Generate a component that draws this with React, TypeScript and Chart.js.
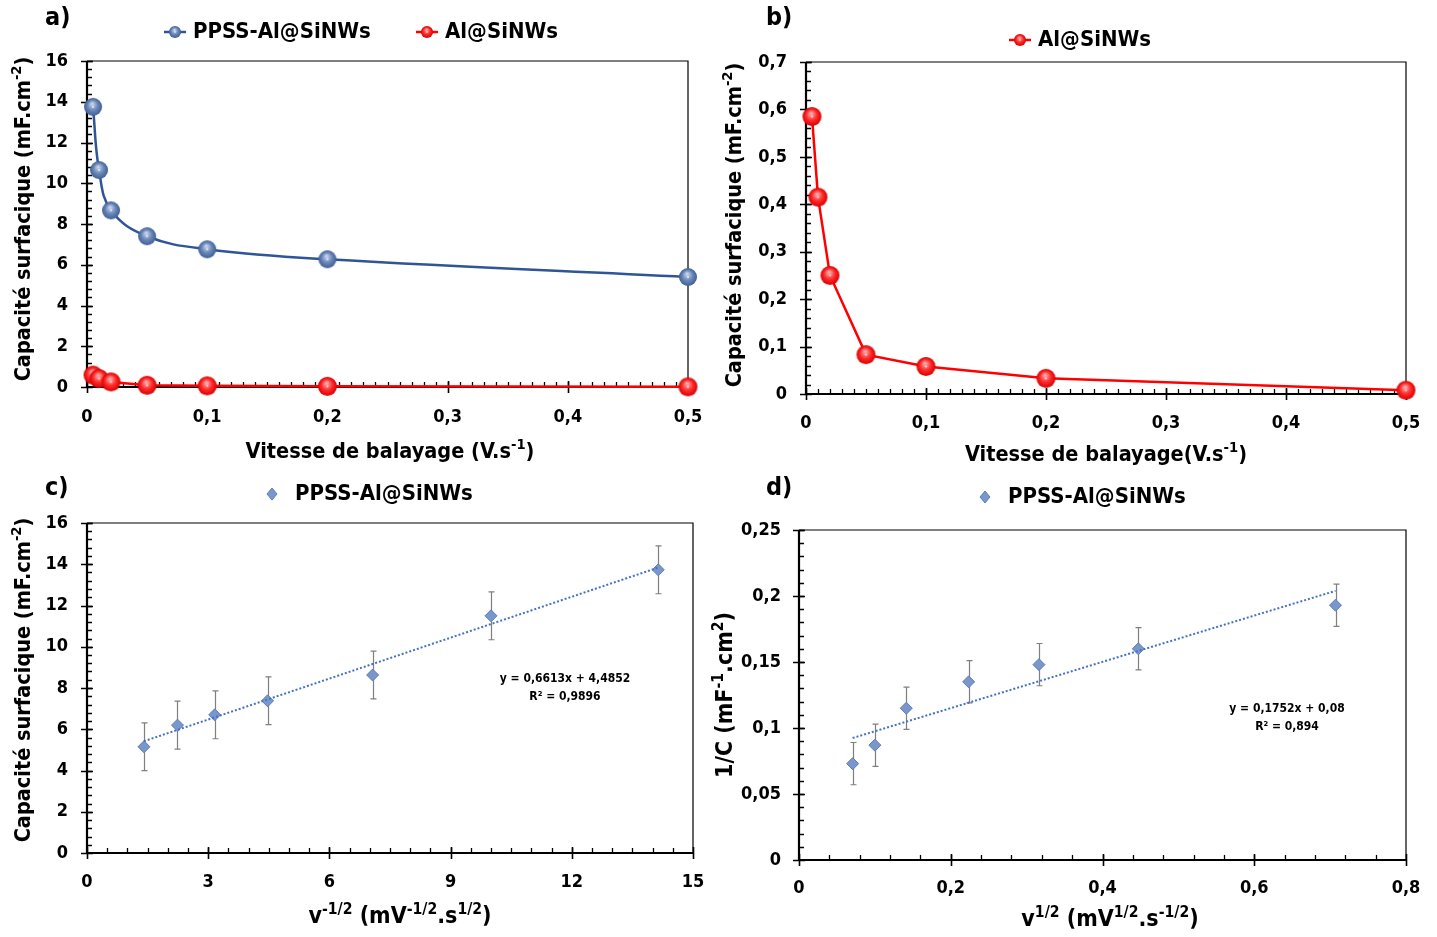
import React, { useEffect, useRef } from 'react';
import { Chart, registerables } from 'chart.js';
Chart.register(...registerables);

const FONT = "'Liberation Sans Narrow', 'Arial Narrow', 'DejaVu Sans Condensed', 'Roboto Condensed', Roboto, sans-serif";

// ---- Data: panels a) and b) ----
const scanRates = [0.005, 0.01, 0.02, 0.05, 0.1, 0.2, 0.5];
const capPPSS = [13.75, 10.65, 8.67, 7.4, 6.76, 6.27, 5.4];
const capAl = [0.585, 0.415, 0.25, 0.083, 0.058, 0.033, 0.008];

// ---- Data: panel c) ----
const invSqrtRate = [1.41, 2.24, 3.16, 4.47, 7.07, 10.0, 14.14];
const capC = [5.15, 6.2, 6.7, 7.38, 8.63, 11.5, 13.73];
const errC = [1.16, 1.16, 1.16, 1.16, 1.16, 1.16, 1.16];
const trendCX = [1.41, 14.14];
const trendCY = [5.42, 13.84];
const eqC = ['y = 0,6613x + 4,4852', 'R² = 0,9896'];

// ---- Data: panel d) ----
const sqrtRate = [0.0707, 0.1, 0.1414, 0.2236, 0.3162, 0.4472, 0.7071];
const invCap = [0.073, 0.087, 0.115, 0.135, 0.148, 0.16, 0.193];
const errD = [0.016, 0.016, 0.016, 0.016, 0.016, 0.016, 0.016];
const trendDX = [0.0707, 0.7071];
const trendDY = [0.0924, 0.2039];
const eqD = ['y = 0,1752x + 0,08', 'R² = 0,894'];

const BLUE_LINE = '#2f5597';
const RED = '#ff0000';
const TREND = '#4472c4';

const zip = (xs: number[], ys: number[]) => xs.map((x, i) => ({ x, y: ys[i] }));

function sphere(r: number, light: string, base: string, dark: string) {
  const c = document.createElement('canvas');
  const s = Math.ceil(2 * r + 2);
  c.width = s; c.height = s;
  const ctx = c.getContext('2d')!;
  const cx = s / 2, cy = s / 2;
  const g = ctx.createRadialGradient(cx - r * 0.1, cy - r * 0.35, r * 0.05, cx, cy, r);
  g.addColorStop(0, light);
  g.addColorStop(0.55, base);
  g.addColorStop(1, dark);
  ctx.fillStyle = g;
  ctx.beginPath();
  ctx.arc(cx, cy, r, 0, Math.PI * 2);
  ctx.fill();
  ctx.fillStyle = 'rgba(255,255,255,0.85)';
  ctx.beginPath();
  ctx.arc(cx, cy, Math.max(0.8, r * 0.1), 0, Math.PI * 2);
  ctx.fill();
  return c;
}

type Seg = [string, boolean?];

function drawRich(ctx: CanvasRenderingContext2D, segs: Seg[], x: number, y: number, size: number, rot: number) {
  ctx.save();
  ctx.translate(x, y);
  ctx.rotate(rot);
  const sup = size * 0.68;
  let total = 0;
  for (const [t, s] of segs) {
    ctx.font = `bold ${s ? sup : size}px ${FONT}`;
    total += ctx.measureText(t).width;
  }
  let cx = -total / 2;
  ctx.fillStyle = '#000';
  ctx.textBaseline = 'alphabetic';
  ctx.textAlign = 'left';
  const base = size * 0.36;
  for (const [t, s] of segs) {
    ctx.font = `bold ${s ? sup : size}px ${FONT}`;
    ctx.fillText(t, cx, s ? base - size * 0.4 : base);
    cx += ctx.measureText(t).width;
  }
  ctx.restore();
}

const fmt = (v: number) => String(Math.round(v * 1000) / 1000).replace('.', ',');

type Title = { segs: Seg[]; cx: number; cy: number; size: number };

type Panel = {
  left: number; top: number; w: number; h: number;
  plot: { l: number; t: number; r: number; b: number };
  x: { min: number; max: number; step: number; minor: number; pad: number };
  y: { min: number; max: number; step: number; minor: number; pad: number };
  xTitle: Title;
  yTitle: Title;
  label: { text: string; x: number; y: number };
  legend: { mx: number; my: number; kind: string; color: string; text: string; tx: number }[];
  eq?: { lines: string[]; cx: number; cy: number };
  datasets: any[];
};

function makeDecor(p: Panel, legendImgs: Record<string, HTMLCanvasElement>) {
  return {
    id: 'decor',
    beforeDatasetsDraw(chart: any) {
      const ctx: CanvasRenderingContext2D = chart.ctx;
      const { left, right, top, bottom } = chart.chartArea;
      const xs = chart.scales.x, ys = chart.scales.y;
      ctx.save();
      ctx.strokeStyle = '#000';
      // frame top/right
      ctx.lineWidth = 1.2;
      ctx.beginPath();
      ctx.moveTo(left, top); ctx.lineTo(right, top); ctx.lineTo(right, bottom);
      ctx.stroke();
      // minor ticks
      ctx.lineWidth = 1.3;
      ctx.beginPath();
      const nx = Math.round((p.x.max - p.x.min) / p.x.minor);
      for (let i = 1; i < nx; i++) {
        const px = Math.round(xs.getPixelForValue(p.x.min + i * p.x.minor)) + 0.5;
        ctx.moveTo(px, bottom); ctx.lineTo(px, bottom - 5);
      }
      const ny = Math.round((p.y.max - p.y.min) / p.y.minor);
      for (let i = 1; i <= ny; i++) {
        const py = Math.round(ys.getPixelForValue(p.y.min + i * p.y.minor)) + 0.5;
        ctx.moveTo(left, py); ctx.lineTo(left + 5, py);
      }
      ctx.stroke();
      // major ticks (cross)
      ctx.lineWidth = 1.6;
      ctx.beginPath();
      const Mx = Math.round((p.x.max - p.x.min) / p.x.step);
      for (let i = 0; i <= Mx; i++) {
        const px = Math.round(xs.getPixelForValue(p.x.min + i * p.x.step)) + 0.5;
        ctx.moveTo(px, bottom - 6); ctx.lineTo(px, bottom + 6);
      }
      const My = Math.round((p.y.max - p.y.min) / p.y.step);
      for (let i = 0; i <= My; i++) {
        const py = Math.round(ys.getPixelForValue(p.y.min + i * p.y.step)) + 0.5;
        ctx.moveTo(left - 6, py); ctx.lineTo(left + 6, py);
      }
      ctx.stroke();
      // axes
      ctx.lineWidth = 2.2;
      ctx.beginPath();
      ctx.moveTo(left, top); ctx.lineTo(left, bottom); ctx.lineTo(right, bottom);
      ctx.stroke();
      // error bars
      chart.data.datasets.forEach((ds: any) => {
        if (!ds.errors) return;
        ctx.strokeStyle = '#7f7f7f';
        ctx.lineWidth = 1.2;
        ctx.beginPath();
        ds.data.forEach((pt: any, i: number) => {
          const px = Math.round(xs.getPixelForValue(pt.x)) + 0.5;
          const y1 = ys.getPixelForValue(pt.y + ds.errors[i]);
          const y2 = ys.getPixelForValue(pt.y - ds.errors[i]);
          ctx.moveTo(px, y1); ctx.lineTo(px, y2);
          ctx.moveTo(px - 3, y1); ctx.lineTo(px + 3, y1);
          ctx.moveTo(px - 3, y2); ctx.lineTo(px + 3, y2);
        });
        ctx.stroke();
      });
      ctx.restore();
    },
    afterDraw(chart: any) {
      const ctx: CanvasRenderingContext2D = chart.ctx;
      ctx.save();
      drawRich(ctx, p.xTitle.segs, p.xTitle.cx, p.xTitle.cy, p.xTitle.size, 0);
      drawRich(ctx, p.yTitle.segs, p.yTitle.cx, p.yTitle.cy, p.yTitle.size, -Math.PI / 2);
      // panel label
      ctx.fillStyle = '#000';
      ctx.font = `bold 25px ${FONT}`;
      ctx.textBaseline = 'middle';
      ctx.textAlign = 'left';
      ctx.fillText(p.label.text, p.label.x, p.label.y);
      // legend
      for (const it of p.legend) {
        if (it.kind !== 'diamond') {
          ctx.strokeStyle = it.color;
          ctx.lineWidth = 2.5;
          ctx.beginPath();
          ctx.moveTo(it.mx - 11, it.my); ctx.lineTo(it.mx + 11, it.my);
          ctx.stroke();
          const img = legendImgs[it.kind];
          ctx.drawImage(img, it.mx - img.width / 2, it.my - img.height / 2);
        } else {
          ctx.fillStyle = '#7a97cc';
          ctx.strokeStyle = '#5b7dbb';
          ctx.lineWidth = 1;
          ctx.beginPath();
          ctx.moveTo(it.mx, it.my - 6); ctx.lineTo(it.mx + 5, it.my);
          ctx.lineTo(it.mx, it.my + 6); ctx.lineTo(it.mx - 5, it.my);
          ctx.closePath(); ctx.fill(); ctx.stroke();
        }
        ctx.fillStyle = '#000';
        ctx.font = `bold 22px ${FONT}`;
        ctx.textBaseline = 'middle';
        ctx.textAlign = 'left';
        ctx.fillText(it.text, it.tx, it.my);
      }
      if (p.eq) {
        ctx.font = `bold 12px ${FONT}`;
        ctx.textAlign = 'center';
        ctx.textBaseline = 'middle';
        p.eq.lines.forEach((l, i) => ctx.fillText(l, p.eq!.cx, p.eq!.cy + i * 18));
      }
      ctx.restore();
    },
  };
}

function zeroPad(s: any) {
  s.paddingLeft = 0; s.paddingRight = 0; s.paddingTop = 0; s.paddingBottom = 0;
}

function PanelChart({ p }: { p: Panel }) {
  const ref = useRef<HTMLCanvasElement>(null);
  useEffect(() => {
    const legendImgs = {
      blue: sphere(6, '#c9d6ec', '#6a86b8', '#3f5f96'),
      red: sphere(6, '#ffb0b0', '#ff2a2a', '#d80000'),
    };
    const tickFont = { family: FONT, size: 18, weight: 'bold' as const };
    const chart = new Chart(ref.current!, {
      type: 'scatter',
      data: { datasets: p.datasets },
      options: {
        responsive: false,
        animation: false,
        devicePixelRatio: 1,
        layout: { padding: { left: 0, top: p.plot.t, right: p.w - p.plot.r, bottom: 0 } },
        plugins: { legend: { display: false }, tooltip: { enabled: false } },
        scales: {
          x: {
            type: 'linear', min: p.x.min, max: p.x.max,
            border: { display: false },
            grid: { display: false, drawTicks: false },
            ticks: { stepSize: p.x.step, padding: p.x.pad, font: tickFont, color: '#000', maxRotation: 0, minRotation: 0, autoSkip: false, callback: (v: any) => fmt(Number(v)) },
            afterFit: (s: any) => { s.height = p.h - p.plot.b; zeroPad(s); },
          },
          y: {
            type: 'linear', min: p.y.min, max: p.y.max,
            border: { display: false },
            grid: { display: false, drawTicks: false },
            ticks: { stepSize: p.y.step, padding: p.y.pad, font: tickFont, color: '#000', autoSkip: false, callback: (v: any) => fmt(Number(v)) },
            afterFit: (s: any) => { s.width = p.plot.l; zeroPad(s); },
          },
        },
      } as any,
      plugins: [makeDecor(p, legendImgs)],
    });
    return () => chart.destroy();
  }, [p]);
  return (
    <canvas
      ref={ref}
      width={p.w}
      height={p.h}
      style={{ position: 'absolute', left: p.left, top: p.top, width: p.w, height: p.h }}
    />
  );
}

function buildPanels(): Panel[] {
  const blueBig = sphere(9, '#c9d6ec', '#6a86b8', '#3f5f96');
  const redBig = sphere(9.5, '#ffb0b0', '#ff2a2a', '#d80000');
  const lineDs = (data: any[], color: string, img: HTMLCanvasElement, tension: number) => ({
    data, showLine: true, borderColor: color, borderWidth: 2.5, tension,
    pointStyle: img, pointRadius: 9, backgroundColor: color, clip: false,
  });
  const diamondDs = (data: any[], errors: number[]) => ({
    data, errors, showLine: false, pointStyle: 'rectRot', pointRadius: 6,
    backgroundColor: '#7a97cc', borderColor: '#5b7dbb', borderWidth: 1, clip: false,
  });
  const trendDs = (data: any[]) => ({
    data, showLine: true, borderColor: TREND, borderWidth: 2, borderDash: [2, 2],
    pointRadius: 0, tension: 0, clip: false,
  });
  const capTitle: Seg[] = [['Capacité surfacique (mF.cm'], ['-2', true], [')']];
  return [
    {
      left: 0, top: 0, w: 718, h: 468,
      plot: { l: 87, t: 61, r: 688, b: 387 },
      x: { min: 0, max: 0.5, step: 0.1, minor: 0.01, pad: 20 },
      y: { min: 0, max: 16, step: 2, minor: 0.4, pad: 19 },
      xTitle: { segs: [['Vitesse de balayage (V.s'], ['-1', true], [')']], cx: 390, cy: 450, size: 21.5 },
      yTitle: { segs: capTitle, cx: 22, cy: 219, size: 21.5 },
      label: { text: 'a)', x: 45, y: 18 },
      legend: [
        { mx: 175, my: 32, kind: 'blue', color: BLUE_LINE, text: 'PPSS-Al@SiNWs', tx: 193 },
        { mx: 427, my: 32, kind: 'red', color: RED, text: 'Al@SiNWs', tx: 445 },
      ],
      datasets: [
        lineDs(zip(scanRates, capPPSS), BLUE_LINE, blueBig, 0.4),
        lineDs(zip(scanRates, capAl), RED, redBig, 0),
      ],
    },
    {
      left: 718, top: 0, w: 719, h: 468,
      plot: { l: 88, t: 62, r: 688, b: 394 },
      x: { min: 0, max: 0.5, step: 0.1, minor: 0.01, pad: 19 },
      y: { min: 0, max: 0.7, step: 0.1, minor: 0.02, pad: 19 },
      xTitle: { segs: [['Vitesse de balayage(V.s'], ['-1', true], [')']], cx: 388, cy: 453, size: 21.5 },
      yTitle: { segs: capTitle, cx: 15, cy: 225, size: 21.5 },
      label: { text: 'b)', x: 48, y: 18 },
      legend: [{ mx: 302, my: 40, kind: 'red', color: RED, text: 'Al@SiNWs', tx: 320 }],
      datasets: [lineDs(zip(scanRates, capAl), RED, redBig, 0)],
    },
    {
      left: 0, top: 468, w: 718, h: 469,
      plot: { l: 87, t: 55, r: 693, b: 385 },
      x: { min: 0, max: 15, step: 3, minor: 0.5, pad: 19 },
      y: { min: 0, max: 16, step: 2, minor: 0.4, pad: 19 },
      xTitle: { segs: [['v'], ['-1/2', true], [' (mV'], ['-1/2', true], ['.s'], ['1/2', true], [')']], cx: 400, cy: 447, size: 23 },
      yTitle: { segs: capTitle, cx: 22, cy: 212, size: 21.5 },
      label: { text: 'c)', x: 45, y: 20 },
      legend: [{ mx: 272, my: 26, kind: 'diamond', color: '', text: 'PPSS-Al@SiNWs', tx: 295 }],
      eq: { lines: eqC, cx: 565, cy: 211 },
      datasets: [
        trendDs(zip(trendCX, trendCY)),
        diamondDs(zip(invSqrtRate, capC), errC),
      ],
    },
    {
      left: 700, top: 468, w: 737, h: 469,
      plot: { l: 99, t: 62, r: 706, b: 392 },
      x: { min: 0, max: 0.8, step: 0.2, minor: 0.04, pad: 18 },
      y: { min: 0, max: 0.25, step: 0.05, minor: 0.01, pad: 18 },
      xTitle: { segs: [['v'], ['1/2', true], [' (mV'], ['1/2', true], ['.s'], ['-1/2', true], [')']], cx: 410, cy: 450, size: 23 },
      yTitle: { segs: [['1/C (mF'], ['-1', true], ['.cm'], ['2', true], [')']], cx: 24, cy: 227, size: 23 },
      label: { text: 'd)', x: 66, y: 20 },
      legend: [{ mx: 285, my: 29, kind: 'diamond', color: '', text: 'PPSS-Al@SiNWs', tx: 308 }],
      eq: { lines: eqD, cx: 587, cy: 241 },
      datasets: [
        trendDs(zip(trendDX, trendDY)),
        diamondDs(zip(sqrtRate, invCap), errD),
      ],
    },
  ];
}

export default function App() {
  const panelsRef = useRef<Panel[] | null>(null);
  if (!panelsRef.current) panelsRef.current = buildPanels();
  return (
    <div style={{ position: 'absolute', left: 0, top: 0, width: 1437, height: 937, background: '#fff' }}>
      {panelsRef.current.map((p, i) => <PanelChart key={i} p={p} />)}
    </div>
  );
}
